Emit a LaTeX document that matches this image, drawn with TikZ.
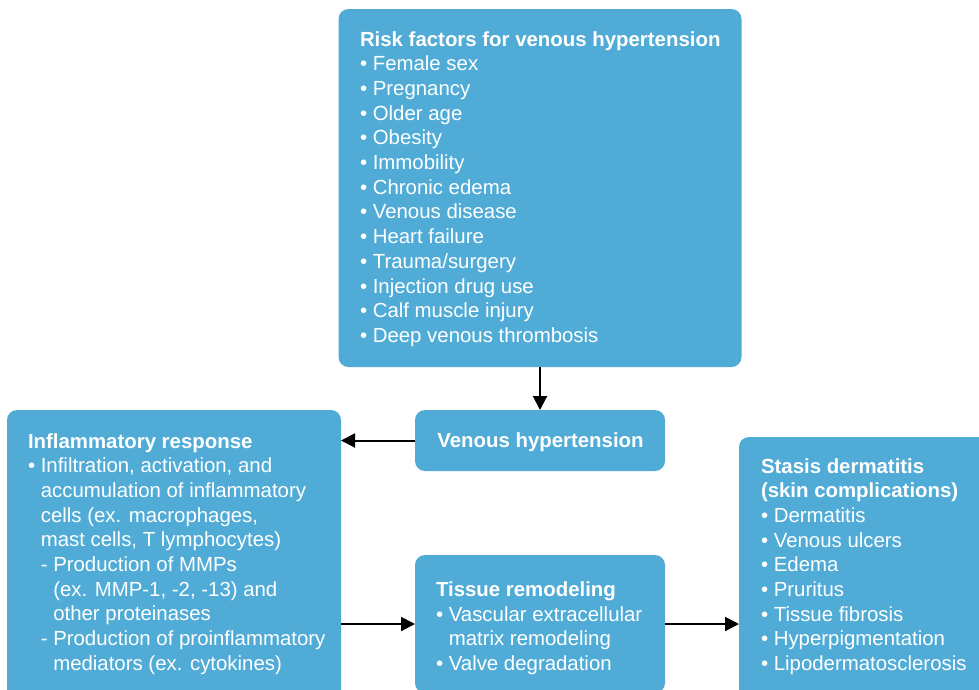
\documentclass[tikz,border=0pt]{standalone}
\usepackage{fontspec}
\setmainfont{Liberation Sans}
\usetikzlibrary{arrows.meta}
\definecolor{boxblue}{RGB}{80,172,214}
\newcommand\bl{\textbullet\ }
\newcommand\ind{\hphantom{\textbullet\ }}
\newcommand\dind{\hphantom{- }}
\begin{document}
\begin{tikzpicture}[x=1pt,y=-1pt,
  box/.style={draw=none,fill=boxblue,rounded corners=10pt,inner sep=0pt,outer sep=0pt},
  txt/.style={text=white,inner sep=0pt,outer sep=0pt,font=\fontsize{20.4}{24.7}\selectfont},
  arr/.style={draw=black,line width=2pt,-{Triangle[length=14pt,width=14pt]}}]
\useasboundingbox (0,0) rectangle (979,689);
\clip (0,0) rectangle (979,689);
\node[box,minimum width=403pt,minimum height=358pt] (rf) at (540,188) {};
\node[box,minimum width=250pt,minimum height=61pt] (vh) at (540,440.5) {};
\node[box,minimum width=334pt,minimum height=290pt] (in) at (174,555) {};
\node[box,minimum width=250pt,minimum height=138pt] (ti) at (540,624) {};
\node[box,minimum width=251pt,minimum height=263pt] (st) at (864.5,568.5) {};

\node[txt,anchor=base west] (rfT) at (360,46) {\begin{tabular}[t]{@{}l@{}}
\textbf{Risk factors for venous hypertension}\\
\bl Female sex\\
\bl Pregnancy\\
\bl Older age\\
\bl Obesity\\
\bl Immobility\\
\bl Chronic edema\\
\bl Venous disease\\
\bl Heart failure\\
\bl Trauma/surgery\\
\bl Injection drug use\\
\bl Calf muscle injury\\
\bl Deep venous thrombosis
\end{tabular}};

\node[txt,anchor=base] (vhT) at (540.5,447) {\textbf{Venous hypertension}};

\node[txt,anchor=base west] (inT) at (28,448) {\begin{tabular}[t]{@{}l@{}}
\textbf{Inflammatory response}\\
\bl Infiltration, activation, and\\
\ind accumulation of inflammatory\\
\ind cells (ex. macrophages,\\
\ind mast cells, T lymphocytes)\\
\ind - Production of MMPs\\
\ind\dind (ex. MMP-1, -2, -13) and\\
\ind\dind other proteinases\\
\ind - Production of proinflammatory\\
\ind\dind mediators (ex. cytokines)
\end{tabular}};

\node[txt,anchor=base west] (tiT) at (436,596.5) {\begin{tabular}[t]{@{}l@{}}
\textbf{Tissue remodeling}\\
\bl Vascular extracellular\\
\ind matrix remodeling\\
\bl Valve degradation
\end{tabular}};

\node[txt,anchor=base west] (stT) at (761,473) {\begin{tabular}[t]{@{}l@{}}
\textbf{Stasis dermatitis}\\
\textbf{(skin complications)}\\
\bl Dermatitis\\
\bl Venous ulcers\\
\bl Edema\\
\bl Pruritus\\
\bl Tissue fibrosis\\
\bl Hyperpigmentation\\
\bl Lipodermatosclerosis
\end{tabular}};

\draw[arr] (rf.south) -- (vh.north);
\draw[arr] (vh.west) -- (vh.west -| in.east);
\draw[arr] (ti.west -| in.east) -- (ti.west);
\draw[arr] (ti.east) -- (ti.east -| st.west);
\end{tikzpicture}
\end{document}
